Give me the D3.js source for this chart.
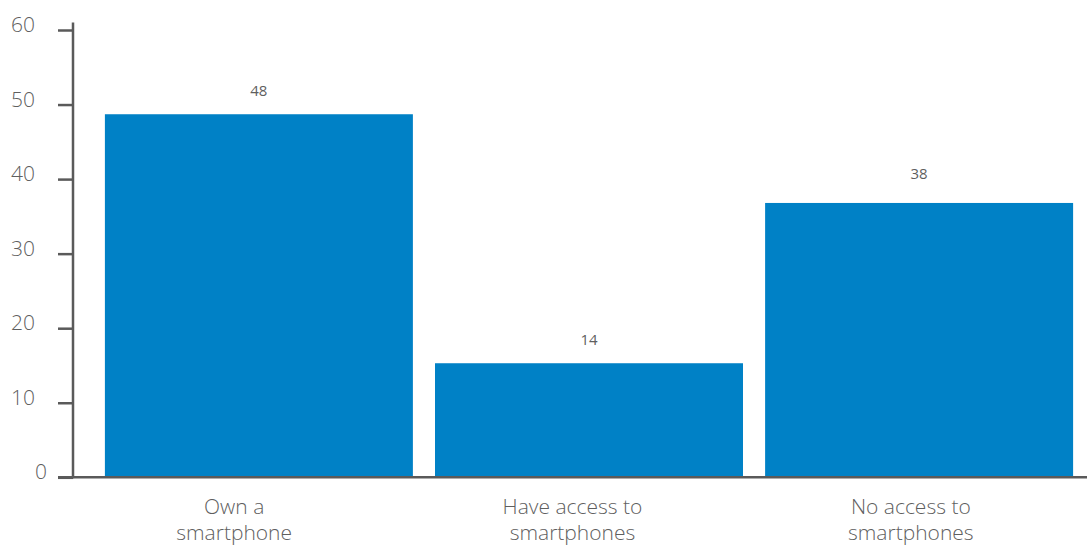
<!DOCTYPE html>
<html><head><meta charset="utf-8">
<script src="https://cdn.jsdelivr.net/npm/d3@7"></script>
<style>
html,body{margin:0;padding:0;background:#fff;}
text{font-family:"Open Sans",sans-serif;}
</style></head>
<body><svg id="chart" width="1087" height="545"></svg>
<script>
const categories = [["Own a","smartphone"],["Have access to","smartphones"],["No access to","smartphones"]];
const values = [48.7, 15.3, 36.8];
const valueLabels = ["48","14","38"];
const yTicks = [0,10,20,30,40,50,60];

const svg = d3.select("#chart");
const axisColor = "#5a5a5a";
const textColor = "#5f5f5f";
const barColor = "#0081C6";

const y = d3.scaleLinear().domain([0,60]).range([477.3,30]);
const x = d3.scaleBand().domain(d3.range(categories.length)).range([94,1084]).paddingInner(0.067).paddingOuter(0.033);
const xl = d3.scaleBand().domain(d3.range(categories.length)).range([65,1080]);

// bars
svg.append("g").selectAll("rect").data(values).join("rect")
  .attr("x",(d,i)=>x(i)).attr("width",x.bandwidth())
  .attr("y",d=>y(d)).attr("height",d=>y(0)-y(d))
  .attr("fill",barColor);

// value labels
svg.append("g").selectAll("text").data(values).join("text")
  .attr("x",(d,i)=>x(i)+x.bandwidth()/2)
  .attr("y",(d,i)=>y(d)-(i===2?24:18))
  .attr("text-anchor","middle")
  .attr("font-size",15).attr("fill",textColor)
  .text((d,i)=>valueLabels[i]);

// y axis
const yAxis = d3.axisLeft(y).tickValues(yTicks).tickSize(15).tickPadding(23).tickFormat(d3.format("d"));
const gy = svg.append("g").attr("transform","translate(73,0)").call(yAxis);
gy.select(".domain").remove();
gy.selectAll(".tick line").attr("stroke",axisColor).attr("stroke-width",2.5);
gy.selectAll(".tick text").attr("font-size",21).attr("font-weight",300).attr("fill",textColor)
  .attr("font-family","'Open Sans',sans-serif").attr("dy","0.08em")
  .attr("dx",d=>d===0?12:0);
svg.append("line").attr("x1",73).attr("x2",73).attr("y1",y(61)).attr("y2",y(0)+1)
  .attr("stroke",axisColor).attr("stroke-width",2.5);
// baseline
svg.append("line").attr("x1",58).attr("x2",1087).attr("y1",y(0)).attr("y2",y(0))
  .attr("stroke",axisColor).attr("stroke-width",2.5);

// category labels
const cl = svg.append("g").selectAll("text").data(categories).join("text")
  .attr("text-anchor","middle").attr("font-size",21).attr("font-weight",300).attr("fill",textColor);
cl.selectAll("tspan").data((d,i)=>d.map(t=>({t,i}))).join("tspan")
  .attr("x",d=>xl(d.i)+xl.bandwidth()/2)
  .attr("y",(d,j)=>514+j*26)
  .text(d=>d.t);
</script></body></html>
